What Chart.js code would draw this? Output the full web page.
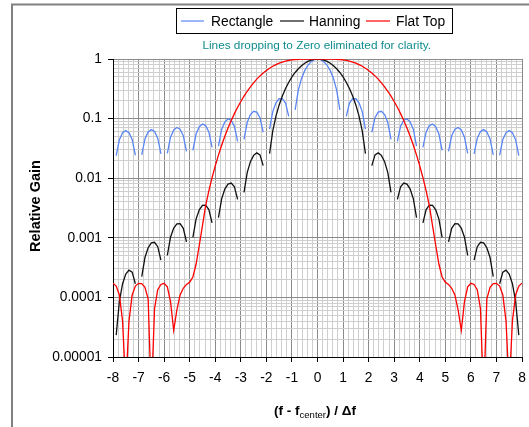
<!DOCTYPE html>
<html><head><meta charset="utf-8">
<style>html,body{margin:0;padding:0;background:#fff;overflow:hidden}canvas{display:block}</style>
<script src="https://cdn.jsdelivr.net/npm/chart.js@4.4.1/dist/chart.umd.min.js"></script>
</head><body>
<canvas id="c" width="529" height="427"></canvas>
<script>
const xValues = [
-8,-7.875,-7.75,-7.625,-7.5,-7.375,-7.25,-7.125,
-7,-6.875,-6.75,-6.625,-6.5,-6.375,-6.25,-6.125,
-6,-5.875,-5.75,-5.625,-5.5,-5.375,-5.25,-5.125,
-5,-4.875,-4.75,-4.625,-4.5,-4.375,-4.25,-4.125,
-4,-3.875,-3.75,-3.625,-3.5,-3.375,-3.25,-3.125,
-3,-2.875,-2.75,-2.625,-2.5,-2.375,-2.25,-2.125,
-2,-1.875,-1.75,-1.625,-1.5,-1.375,-1.25,-1.125,
-1,-0.875,-0.75,-0.625,-0.5,-0.375,-0.25,-0.125,
0,
0.125,0.25,0.375,0.5,0.625,0.75,0.875,1,
1.125,1.25,1.375,1.5,1.625,1.75,1.875,2,
2.125,2.25,2.375,2.5,2.625,2.75,2.875,3,
3.125,3.25,3.375,3.5,3.625,3.75,3.875,4,
4.125,4.25,4.375,4.5,4.625,4.75,4.875,5,
5.125,5.25,5.375,5.5,5.625,5.75,5.875,6,
6.125,6.25,6.375,6.5,6.625,6.75,6.875,7,
7.125,7.25,7.375,7.5,7.625,7.75,7.875,8
];
const rectangle = [
null,0.02392,0.04425,0.0579,0.0628,0.05818,0.04468,0.02427,
null,0.02451,0.04556,0.05991,0.06531,0.06081,0.04694,0.02564,
null,0.02616,0.04889,0.06464,0.07087,0.06636,0.05152,0.02831,
null,0.02925,0.05502,0.07325,0.08085,0.07626,0.05965,0.03302,
null,0.03469,0.06581,0.0884,0.09852,0.09385,0.07419,0.04154,
null,0.04471,0.08596,0.1171,0.1326,0.1284,0.1034,0.05902,
null,0.06646,0.1312,0.1841,0.2153,0.2165,0.1819,0.1092,
null,0.1399,0.3012,0.4717,0.6376,0.7849,0.9007,0.9746,
1,
0.9746,0.9007,0.7849,0.6376,0.4717,0.3012,0.1399,null,
0.1092,0.1819,0.2165,0.2153,0.1841,0.1312,0.06646,null,
0.05902,0.1034,0.1284,0.1326,0.1171,0.08596,0.04471,null,
0.04154,0.07419,0.09385,0.09852,0.0884,0.06581,0.03469,null,
0.03302,0.05965,0.07626,0.08085,0.07325,0.05502,0.02925,null,
0.02831,0.05152,0.06636,0.07087,0.06464,0.04889,0.02616,null,
0.02564,0.04694,0.06081,0.06531,0.05991,0.04556,0.02451,null,
0.02427,0.04468,0.05818,0.0628,0.0579,0.04425,0.02392,null
];
const hanning = [
null,0.00002324,0.0000861,0.0001695,0.000246,0.0002862,0.0002653,0.0001694,
null,0.0002236,0.0004667,0.0006826,0.0008223,0.0008407,0.0007094,0.0004218,
null,0.0005058,0.001021,0.001456,0.001719,0.001731,0.001445,0.0008532,
null,0.001017,0.002055,0.00294,0.003489,0.003541,0.002984,0.001781,
null,0.002186,0.004494,0.006556,0.007954,0.008272,0.007159,0.004404,
null,0.005793,0.0124,0.01893,0.02417,0.02661,0.02457,0.01628,
null,0.0258,0.06236,0.1103,0.1697,0.2401,0.3201,0.4076,
0.5,0.594,0.686,0.7722,0.8488,0.9125,0.9603,0.99,
1,
0.99,0.9603,0.9125,0.8488,0.7722,0.686,0.594,0.5,
0.4076,0.3201,0.2401,0.1697,0.1103,0.06236,0.0258,null,
0.01628,0.02457,0.02661,0.02417,0.01893,0.0124,0.005793,null,
0.004404,0.007159,0.008272,0.007954,0.006556,0.004494,0.002186,null,
0.001781,0.002984,0.003541,0.003489,0.00294,0.002055,0.001017,null,
0.0008532,0.001445,0.001731,0.001719,0.001456,0.001021,0.0005058,null,
0.0004218,0.0007094,0.0008407,0.0008223,0.0006826,0.0004667,0.0002236,null,
0.0001694,0.0002653,0.0002862,0.000246,0.0001695,0.0000861,0.00002324,null
];
const flatTop = [
0.000173,0.000155,0.00011,0.00004,0.000003,0.00004,0.00011,0.000155,
0.000172,0.00017,0.000148,0.000095,0.000002,0.000065,0.000135,0.000165,
0.000172,0.00015,0.000085,0.000028,0.000062,0.00011,0.000142,0.000165,
0.00018,0.00022,0.00036,0.00075,0.0016,0.003453,0.006122,0.01019,
0.01612,0.02442,0.03566,0.05041,0.06924,0.09265,0.1211,0.1548,
0.1939,0.2382,0.2876,0.3414,0.3988,0.4589,0.5205,0.5823,
0.6431,0.7014,0.7561,0.8061,0.8506,0.889,0.921,0.9467,
0.9663,0.9805,0.9901,0.9959,0.9989,1,1,1,
1,
1,1,1,0.9989,0.9959,0.9901,0.9805,0.9663,
0.9467,0.921,0.889,0.8506,0.8061,0.7561,0.7014,0.6431,
0.5823,0.5205,0.4589,0.3988,0.3414,0.2876,0.2382,0.1939,
0.1548,0.1211,0.09265,0.06924,0.05041,0.03566,0.02442,0.01612,
0.01019,0.006122,0.003453,0.0016,0.00075,0.00036,0.00022,0.00018,
0.000165,0.000142,0.00011,0.000062,0.000028,0.000085,0.00015,0.000172,
0.000165,0.000135,0.000065,0.000002,0.000095,0.000148,0.00017,0.000172,
0.000155,0.00011,0.00004,0.000003,0.00004,0.00011,0.000155,0.000173
];
const seriesNames = ['Rectangle', 'Hanning', 'Flat Top'];
const seriesColors = ['#5a86f5', '#111111', '#ff0000'];
const xTickLabels = ['-8','-7','-6','-5','-4','-3','-2','-1','0','1','2','3','4','5','6','7','8'];
const yTickValues = [0.00001, 0.0001, 0.001, 0.01, 0.1, 1];
const yTickLabels = ['0.00001', '0.0001', '0.001', '0.01', '0.1', '1'];
const noteText = 'Lines dropping to Zero eliminated for clarity.';
const yTitle = 'Relative Gain';

const FONT = "'Liberation Sans', Arial, sans-serif";
const MAJOR = '#8a8a8a';
const MINOR = '#cfcfcf';

const toPts = ys => xValues.map((x, i) => ({ x: x, y: ys[i] }));
const isInt = v => Math.abs(v - Math.round(v)) < 1e-6;
const isDecade = v => { const l = Math.log10(v); return Math.abs(l - Math.round(l)) < 1e-6; };

const framePlugin = {
  id: 'frame',
  afterDraw(chart) {
    const c = chart.ctx;
    c.save();
    c.strokeStyle = '#808080'; c.lineWidth = 2;
    c.beginPath(); c.moveTo(12, 427); c.lineTo(12, 4.5); c.lineTo(529, 4.5); c.stroke();
    c.fillStyle = '#fff'; c.fillRect(176.5, 8.5, 276, 25);
    c.strokeStyle = '#000'; c.lineWidth = 1; c.strokeRect(176.5, 8.5, 276, 25);
    const items = [[181, 204, 211], [280, 304, 309], [366, 390, 396]];
    c.font = '13.8px ' + FONT; c.textBaseline = 'alphabetic'; c.textAlign = 'left';
    items.forEach((it, i) => {
      c.strokeStyle = seriesColors[i]; c.lineWidth = 1.2;
      c.beginPath(); c.moveTo(it[0], 21); c.lineTo(it[1], 21); c.stroke();
      c.fillStyle = '#000'; c.fillText(seriesNames[i], it[2], 26);
    });
    c.font = '11.8px ' + FONT; c.fillStyle = '#108c8c'; c.textAlign = 'center';
    c.fillText(noteText, 316.7, 48.5);
    const p1 = '(f - f', sub = 'center', p2 = ') / \u0394f';
    c.textAlign = 'left';
    c.font = 'bold 13.5px ' + FONT; const w1 = c.measureText(p1).width, w3 = c.measureText(p2).width;
    c.font = '9.5px ' + FONT; const w2 = c.measureText(sub).width;
    let x0 = 315 - (w1 + w2 + w3) / 2;
    c.fillStyle = '#000';
    c.font = 'bold 13.5px ' + FONT; c.fillText(p1, x0, 414.5);
    c.font = '9.5px ' + FONT; c.fillText(sub, x0 + w1, 417.5);
    c.font = 'bold 13.5px ' + FONT; c.fillText(p2, x0 + w1 + w2, 414.5);
    c.translate(36, 206); c.rotate(-Math.PI / 2);
    c.font = 'bold 14.5px ' + FONT; c.textAlign = 'center'; c.textBaseline = 'middle';
    c.fillText(yTitle, 0, 0);
    c.restore();
  }
};

new Chart(document.getElementById('c'), {
  type: 'scatter',
  data: {
    datasets: [
      { label: seriesNames[0], data: toPts(rectangle), borderColor: seriesColors[0], showLine: true, order: 2 },
      { label: seriesNames[1], data: toPts(hanning), borderColor: seriesColors[1], showLine: true, order: 1 },
      { label: seriesNames[2], data: toPts(flatTop), borderColor: seriesColors[2], showLine: true, order: 0 }
    ]
  },
  options: {
    responsive: false, animation: false, devicePixelRatio: 1,
    layout: { padding: { top: 59, right: 7, left: 0, bottom: 0 } },
    plugins: { legend: { display: false }, tooltip: { enabled: false }, title: { display: false } },
    elements: { point: { radius: 0, hoverRadius: 0 }, line: { tension: 0, borderWidth: 1.3, fill: false } },
    scales: {
      x: {
        type: 'linear', min: -8, max: 8,
        afterBuildTicks: s => { const t = []; for (let i = 0; i <= 80; i++) t.push({ value: Math.round((-8 + i * 0.2) * 1000) / 1000 }); s.ticks = t; },
        afterFit: s => { s.height = 70; s.paddingLeft = 0; s.paddingRight = 0; },
        grid: {
          color: ctx => (ctx.tick && isInt(ctx.tick.value)) ? MAJOR : MINOR,
          tickColor: ctx => (ctx.tick && isInt(ctx.tick.value)) ? '#000' : 'rgba(0,0,0,0)',
          lineWidth: 1, tickLength: 5
        },
        border: { color: '#000', width: 1 },
        ticks: {
          autoSkip: false, maxRotation: 0, padding: 8, color: '#000',
          font: { family: FONT, size: 13.8 },
          callback: v => isInt(v) ? xTickLabels[Math.round(v) + 8] : ''
        }
      },
      y: {
        type: 'logarithmic', min: 0.00001, max: 1,
        afterBuildTicks: s => {
          const t = [];
          for (let e = -5; e < 0; e++) for (let m = 1; m <= 9; m++) t.push({ value: parseFloat((m * Math.pow(10, e)).toPrecision(6)) });
          t.push({ value: 1 });
          s.ticks = t;
        },
        afterFit: s => { s.width = 113; s.paddingTop = 0; s.paddingBottom = 0; },
        grid: {
          color: ctx => (ctx.tick && isDecade(ctx.tick.value)) ? MAJOR : MINOR,
          tickColor: ctx => (ctx.tick && isDecade(ctx.tick.value)) ? '#000' : 'rgba(0,0,0,0)',
          lineWidth: 1, tickLength: 5
        },
        border: { color: '#000', width: 1 },
        ticks: {
          autoSkip: false, padding: 6, color: '#000',
          font: { family: FONT, size: 13.8 },
          callback: v => { const i = yTickValues.findIndex(t => Math.abs(Math.log10(t) - Math.log10(v)) < 1e-6); return i >= 0 ? yTickLabels[i] : ''; }
        }
      }
    }
  },
  plugins: [framePlugin]
});
</script>
</body></html>
